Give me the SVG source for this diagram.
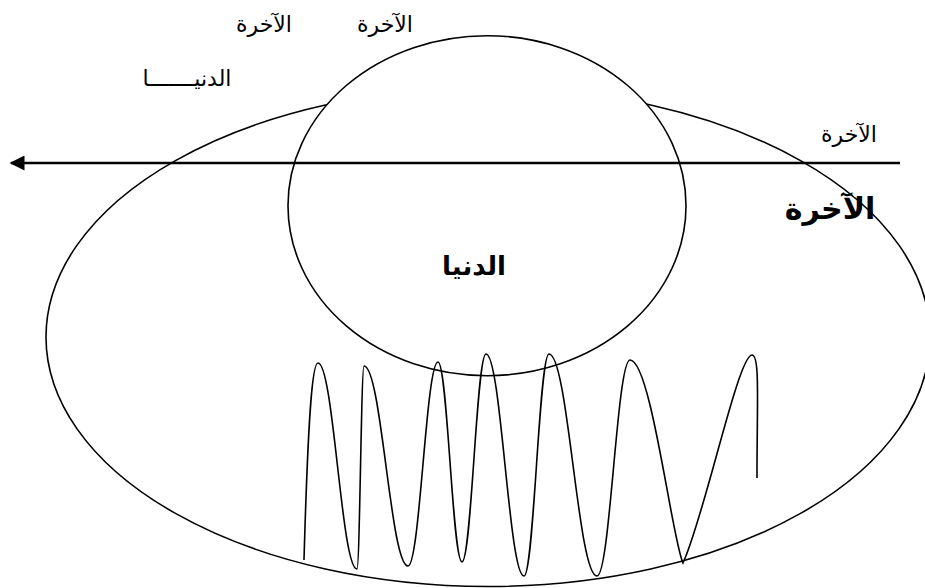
<svg xmlns="http://www.w3.org/2000/svg" width="925" height="588" viewBox="0 0 925 588">
<defs>
<style>
.ln{fill:none;stroke:#000;stroke-width:1.6}
.sm{font-family:"Liberation Serif","DejaVu Serif","DejaVu Sans",serif;font-size:22px;fill:#000;text-anchor:middle}
.lg{font-family:"DejaVu Sans","Liberation Sans",sans-serif;font-weight:bold;fill:#000;text-anchor:middle}
</style>
<marker id="ah" viewBox="0 0 10 10" refX="9" refY="5" markerWidth="6.5" markerHeight="6" orient="auto" markerUnits="strokeWidth">
<path d="M0,0 L10,5 L0,10 Z" fill="#000"/>
</marker>
</defs>
<rect width="925" height="588" fill="#fff"/>
<g id="akhira-ellipse">
<ellipse class="ln" cx="488" cy="337" rx="442" ry="249.5"/>
</g>
<g id="dunya-circle">
<ellipse cx="487" cy="205.7" rx="199" ry="170" fill="#fff" stroke="#000" stroke-width="1.6"/>
</g>
<g id="wave">
<path class="ln" d="M304,560 C308,420 312,363 318,363 C333.6,363 341.4,569 357,569 C359.8,569 361.2,366 364,366 C381.6,366 390.4,566 408,566 C420,566 426,362 438,362 C447.6,362 452.4,562 462,562 C471.6,562 476.4,354 486,354 C501.2,354 508.8,576 524,576 C534,576 539,354 549,354 C568.2,354 577.8,576 597,576 C610.2,576 616.8,360 630,360 C651,360 672,540 683,563 C705,515 738,355 752,355 C760,355 757,400 757,478"/>
</g>
<g id="connectors">
<line x1="900" y1="163" x2="11" y2="163" stroke="#000" stroke-width="2.5" marker-end="url(#ah)"/>
</g>
<g id="labels">
<text class="sm" x="264" y="32">الآخرة</text>
<text class="sm" x="385" y="32">الآخرة</text>
<text class="sm" x="187" y="86">الدنيـــــــا</text>
<text class="sm" x="849" y="142">الآخرة</text>
<text class="lg" x="830" y="219" font-size="30">الآخرة</text>
<text class="lg" x="474" y="275" font-size="26">الدنيا</text>
</g>
</svg>
